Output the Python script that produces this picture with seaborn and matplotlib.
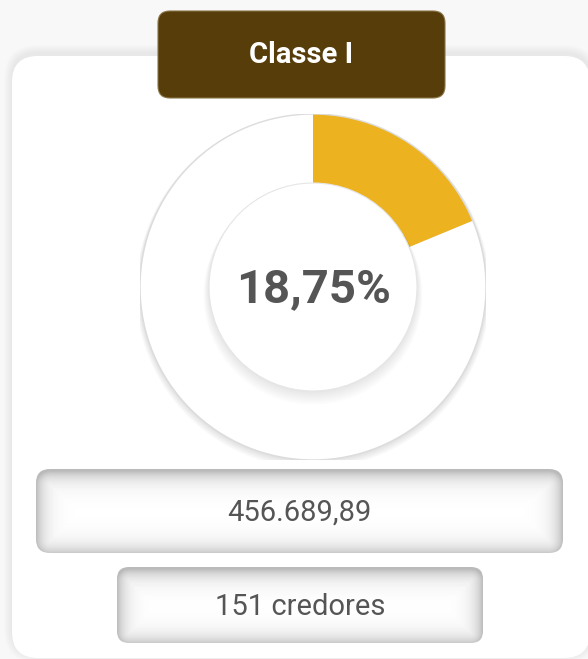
import matplotlib
matplotlib.use("Agg")
import matplotlib.pyplot as plt
import seaborn as sns
import numpy as np
from matplotlib.patches import FancyBboxPatch, Circle

# data
title = "Classe I"
share_labels = ["Classe I", "Outros"]
share_values = [18.75, 81.25]
center_label = "18,75%"
amount_label = "456.689,89"
creditors_label = "151 credores"

W, H = 588, 659
DONUT_COLORS = ["#EDB21F", "#FFFFFF"]
TEXT_GRAY = "#555555"
BROWN = "#563D0A"


def rounded(ax, x, y, w, h, r, **kw):
    p = FancyBboxPatch((x, y), w, h, boxstyle=f"round,pad=0,rounding_size={r}", **kw)
    ax.add_patch(p)
    return p


def soft_shadow(ax, x, y, w, h, r, spread=14, alpha=0.018, dy=0):
    for i in range(spread, 0, -1):
        rounded(ax, x - i, y - i + dy, w + 2 * i, h + 2 * i, r + i,
                facecolor="black", edgecolor="none", alpha=alpha)


def inset_box(ax, x, y, w, h, r, text, fontsize):
    # inner shadow: gray near the border, fading to white
    box = rounded(ax, x, y, w, h, r, facecolor="white", edgecolor="none")
    xs = np.arange(x, x + w) + 0.5
    ys = np.arange(y, y + h) + 0.5
    X, Y = np.meshgrid(xs, ys)
    cxb, cyb = x + w / 2, y + h / 2 + 2
    qx = np.abs(X - cxb) - (w / 2 - r)
    qy = np.abs(Y - cyb) - (h / 2 - r)
    sd = np.hypot(np.maximum(qx, 0), np.maximum(qy, 0)) + np.minimum(np.maximum(qx, qy), 0) - r
    depth = np.clip(-sd, 0, None)
    shade = 1 - 0.27 * np.exp(-depth / 9.0)
    img = ax.imshow(shade, cmap="gray", vmin=0, vmax=1, extent=(x, x + w, y + h, y),
                    interpolation="bilinear", zorder=2)
    img.set_clip_path(box)
    ax.text(x + w / 2, y + h / 2 + 2, text, ha="center", va="center",
            fontsize=fontsize, color=TEXT_GRAY, family="Roboto", zorder=3)


sns.set_theme(style="white")
plt.rcParams['font.family'] = ['Roboto', 'DejaVu Sans']

fig = plt.figure(figsize=(W / 100, H / 100), dpi=100)
fig.patch.set_facecolor("#f8f8f8")
ax = fig.add_axes([0, 0, 1, 1])
ax.set_xlim(0, W)
ax.set_ylim(H, 0)
ax.set_aspect("auto")
ax.axis("off")

# card
soft_shadow(ax, 12, 56, 578, 602, 26, spread=8, alpha=0.008, dy=-3)
rounded(ax, 12, 56, 578, 602, 26, facecolor="white", edgecolor="none")

# header
soft_shadow(ax, 158, 11, 287, 87, 12, spread=60, alpha=0.0012, dy=8)
rounded(ax, 158, 11, 287, 87, 12, facecolor=BROWN, edgecolor="#8a7346", linewidth=0.8)
ax.text(301.5, 55, title, ha="center", va="center", fontsize=21,
        fontweight="bold", color="white", family="Roboto")

# value boxes
inset_box(ax, 36, 469, 527, 84, 14, amount_label, 21)
inset_box(ax, 117, 567, 366, 76, 12, creditors_label, 21)
ax.set_xlim(0, W)
ax.set_ylim(H, 0)

# donut
cx, cy, R, r_in = 313, 287, 173, 104
dax = fig.add_axes([(cx - R) / W, (H - cy - R) / H, 2 * R / W, 2 * R / H])
dax.patch.set_alpha(0)
ring = 1 - r_in / R
# outer soft edge
for i in range(6, 0, -1):
    dax.add_patch(Circle((0, -0.004 * i), 1 + 0.004 * i, facecolor="black",
                         edgecolor="none", alpha=0.02))
dax.pie(share_values, colors=DONUT_COLORS, startangle=90, counterclock=False,
        radius=1, wedgeprops=dict(width=ring, edgecolor="none"))
dax.add_patch(Circle((0, 0), 1, facecolor="none", edgecolor="#dcdcdc", linewidth=1))
# inner hole shadow
rin = r_in / R
for i in range(8, 0, -1):
    dax.add_patch(Circle((0, -0.006 * i), rin + 0.004 * i, facecolor="black",
                         edgecolor="none", alpha=0.012))
dax.add_patch(Circle((0, 0), rin, facecolor="white", edgecolor="#e6e6e6", linewidth=0.8))
dax.text(0, -0.01, center_label, ha="center", va="center", fontsize=34,
         fontweight="bold", color=TEXT_GRAY, family="Roboto")
dax.set_xlim(-1, 1)
dax.set_ylim(-1, 1)
dax.set_aspect("equal")
dax.axis("off")

fig.savefig("out.png", dpi=100, facecolor=fig.get_facecolor())
